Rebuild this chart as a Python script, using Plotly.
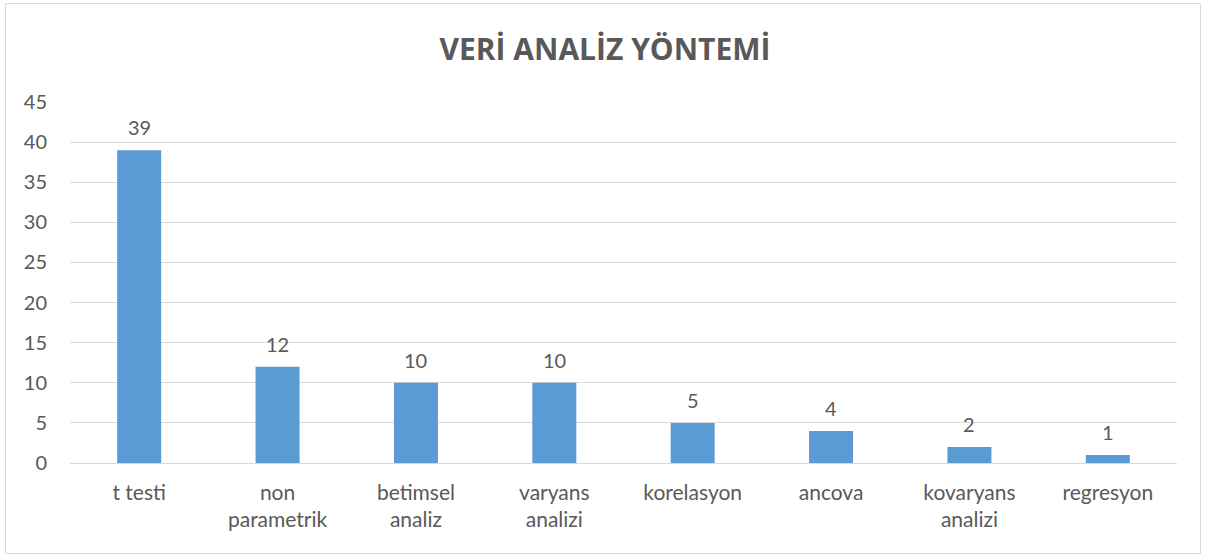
import plotly.graph_objects as go

categories = ["t testi", "non<br>parametrik", "betimsel<br>analiz", "varyans<br>analizi",
              "korelasyon", "ancova", "kovaryans<br>analizi", "regresyon"]
values = [39, 12, 10, 10, 5, 4, 2, 1]
y_ticks = [0, 5, 10, 15, 20, 25, 30, 35, 40, 45]
title_text = "VERİ ANALİZ YÖNTEMİ"

W, H = 1205, 556
ML, MT = 70, 102
MR = 1205 - 1177
MB = 556 - 463
FONT = "Lato, Carlito, Calibri, sans-serif"
TFONT = "Open Sans, sans-serif"
GREY = "#595959"

fig = go.Figure(go.Bar(
    x=categories, y=values,
    marker=dict(color="#5B9BD5", line=dict(width=0)),
    width=0.318, hoverinfo="x+y",
))

for c, v in zip(categories, values):
    fig.add_annotation(x=c, y=v, text=str(v), showarrow=False, yanchor="bottom",
                       yshift=9, font=dict(family=FONT, size=20, color=GREY))

pw = W - ML - MR
ph = H - MB - MT
fig.add_shape(type="rect", xref="paper", yref="paper",
              x0=(5.5 - ML) / pw, x1=(1200.5 - ML) / pw,
              y0=(H - MB - 553.5) / ph, y1=(H - MB - 3.5) / ph,
              line=dict(color="#D9D9D9", width=1), fillcolor="rgba(0,0,0,0)", layer="below")

fig.update_layout(
    width=W, height=H,
    margin=dict(l=ML, r=MR, t=MT, b=MB, autoexpand=False),
    paper_bgcolor="white", plot_bgcolor="white",
    title=dict(text="<b>" + title_text + "</b>", x=605 / W, xref="container", xanchor="center",
               y=1 - 49 / H, yref="container", yanchor="middle",
               font=dict(family=TFONT, size=30, color=GREY)),
    font=dict(family=FONT, size=21, color=GREY),
    showlegend=False,
    xaxis=dict(showgrid=False, showline=False, ticks="", tickfont=dict(size=21, color=GREY),
               ticklabelstandoff=15),
    yaxis=dict(range=[0, 45], tickvals=y_ticks, showgrid=True, gridcolor="#D9D9D9", gridwidth=1,
               zeroline=True, zerolinecolor="#D9D9D9", zerolinewidth=1, showline=False,
               ticks="", tickfont=dict(size=20, color=GREY), ticklabelstandoff=22),
)

fig.write_html("out.html", config={"displayModeBar": False},
               post_script="document.body.style.margin='0px';")
